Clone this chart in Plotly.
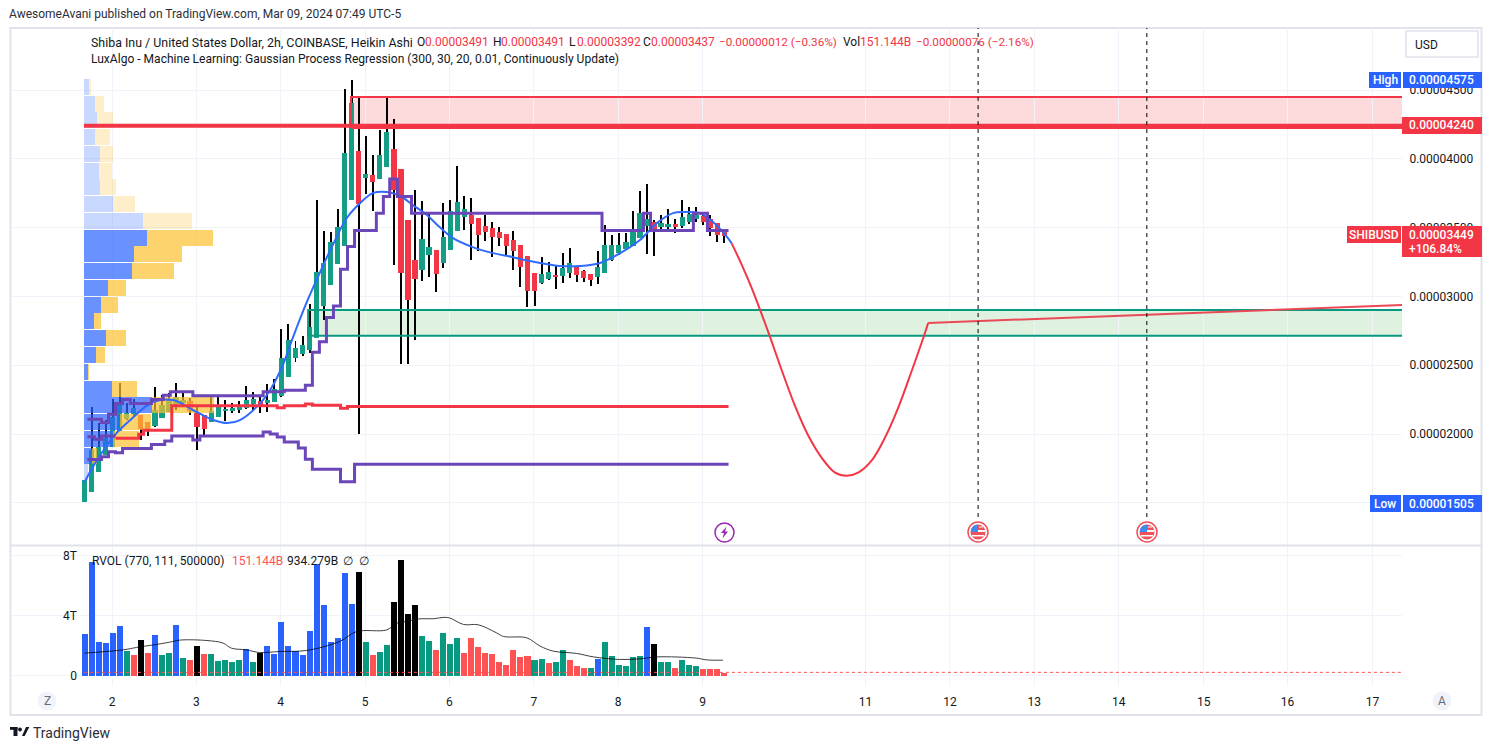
import plotly.graph_objects as go

# ---- prices are in units of 0.00000001 USD ----
bar_index = list(range(92))
opens = [1505,1579,1724,1848,1906,2022,2109,2145,2138,2087,2058,2116,2160,2218,2225,2240,2153,2138,2087,2124,
         2167,2167,2175,2189,2218,2240,2225,2233,2276,2414,2552,2581,2611,2698,2930,3083,3236,3366,3701,4057,
         3860,3882,3853,3940,4071,3926,3555,3265,3192,3301,3337,3243,3337,3475,3577,3592,3570,3512,3497,3468,
         3454,3410,3374,3294,3170,3097,3127,3156,3148,3170,3214,3185,3163,3141,3170,3265,3315,3345,3366,3424,
         3512,3541,3504,3512,3526,3512,3541,3563,3584,3563,3533,3491]
highs = [1666,2196,2080,2102,2254,2371,2225,2254,2138,2087,2342,2284,2298,2371,2305,2262,2196,2138,2269,2269,
         2247,2225,2240,2349,2305,2269,2363,2400,2763,2799,2676,2712,2945,3701,3475,3468,3635,4507,4575,4442,
         4166,4028,4209,4442,4289,3926,3555,3773,3693,3606,3337,3679,3701,3948,3730,3715,3570,3592,3541,3504,
         3454,3475,3374,3294,3170,3286,3250,3228,3315,3352,3214,3192,3163,3330,3519,3446,3461,3461,3621,3766,
         3817,3555,3592,3635,3563,3701,3650,3650,3613,3592,3533,3491]
lows = [1505,1579,1724,1848,1906,2022,2100,2130,1957,1986,2050,2116,2160,2175,2196,2138,1884,1993,2087,2124,
        2095,2153,2153,2182,2175,2153,2160,2233,2270,2414,2523,2570,2589,2698,2829,3083,3236,3366,3701,2000,
        3744,3621,3853,3940,3228,2509,2509,2683,3112,3141,3032,3206,3337,3475,3483,3265,3330,3403,3286,3366,
        3301,3192,3068,2923,2930,3090,3119,3054,3097,3134,3105,3105,3076,3090,3170,3257,3301,3337,3366,3424,
        3308,3294,3483,3490,3461,3497,3526,3541,3519,3439,3395,3392]
closes = [1666,1884,1906,1971,2124,2211,2153,2189,2036,2036,2175,2211,2247,2269,2247,2167,2051,2036,2167,2196,
          2182,2189,2196,2247,2254,2211,2247,2327,2552,2683,2625,2647,2778,3177,3243,3395,3504,4042,4405,3672,
          3890,3831,4028,4195,3773,3170,2974,3127,3417,3359,3163,3432,3621,3686,3635,3526,3446,3468,3432,3424,
          3366,3330,3214,3039,3039,3163,3177,3141,3206,3243,3156,3134,3119,3214,3374,3374,3374,3395,3483,3606,
          3563,3483,3533,3526,3504,3577,3599,3592,3541,3497,3446,3437]

# relative volume (trillions) and its colour class per bar
volumes = [2.78,7.56,2.24,2.18,2.84,3.31,1.64,1.38,2.38,1.51,2.71,1.38,1.51,3.38,1.18,1.04,1.98,1.44,1.44,0.98,
           1.04,0.91,1.04,1.78,0.91,1.51,1.98,1.44,3.58,1.98,1.64,1.38,2.98,7.44,4.71,2.24,2.51,6.84,4.78,6.91,
           2.24,1.38,1.58,2.04,4.91,7.71,4.13,4.67,2.60,2.33,1.67,2.80,2.13,2.53,1.47,2.47,1.93,1.47,1.40,0.93,
           0.73,1.67,1.20,1.27,1.00,1.13,0.80,0.87,1.67,1.00,0.60,0.53,0.53,1.13,2.20,1.27,0.67,0.60,1.20,1.27,
           3.20,2.13,0.87,0.93,0.53,1.00,0.73,0.60,0.40,0.40,0.40,0.20]
vol_class = list("bbbbbbgrkrbggbgrkrgggggbgkbbbbbbbbbbbbbk"
                 "grggkkkkggrgggrrrrrrrrrrggrggrrrgbgggggg"
                 "bkggrgggrrrr")
vol_avg_x = [0,5.5,7.4,9.8,12.1,13.6,17.4,19.7,20.9,23,24.9,27.8,31.6,36.3,38.7,43,44.4,45.8,47.7,49.6,51,51.9,
             53.9,56,58.6,59.6,62.9,64.8,66.7,70,72.4,76.1,79,81.4,87,88.5,90.8]
vol_avg = [1.49,1.71,1.87,2.04,2.22,2.36,2.33,2.16,1.82,1.71,1.53,1.60,1.67,2.27,2.93,3.04,3.49,3.60,3.78,3.78,3.87,3.84,
           3.40,3.38,2.84,2.60,2.51,1.96,1.62,1.47,1.24,1.07,1.11,1.24,1.16,1.04,1.02]
vol_floor = 0.21

# Gaussian-process regression fit and forecast
fit_x = [0,1.5,4.3,6.5,9.7,12.6,15.4,18.3,20.3,22.1,25,26.4,28.2,29.6,31.6,33.5,35.3,37.3,39.2,41,43,44.9,46.7,48.7,
         50.5,52.4,55.2,58.1,60.9,61.9,64.8,67.6,70.5,73.3,76.2,79,81.4,83.7,85.7,87.5,89.4,91.4,92.05]
fit_y = [1651,1789,1993,2102,2233,2247,2175,2102,2080,2102,2225,2320,2502,2698,2959,3177,3374,3570,3679,3751,3759,3730,
         3664,3592,3504,3424,3359,3315,3286,3272,3243,3221,3221,3243,3315,3410,3533,3606,3613,3606,3541,3432,3386]
fc_x = [92.05,93.5,94.9,96.1,97.5,98.9,101.1,102.9,104.9,106.7,108.4,110.1,112,113.8,115.7,117.6,119.3,120]
fc_y = [3386,3228,3061,2901,2707,2502,2199,1993,1824,1722,1697,1722,1811,1969,2187,2451,2698,2807]
trend_x = [120,187.4]
trend_y = [2807,2938]

# Step bands
upper_x = [0.4,2.4,3.4,4.4,5.4,6.5,9.5,11.2,12.2,15.4,25.4,28.4,31.4,32.4,33.4,34.4,35.4,36.4,37.4,38.4,41.5,42.5,43.4,
           44.5,46.5,73.6,79.5,80.5,86.6,88.6,91.6]
upper_y = [2107,2085,2145,2223,2252,2223,2252,2283,2307,2278,2307,2318,2354,2594,2671,2848,2930,3197,3364,3480,3604,3727,
           3853,3727,3604,3480,3604,3480,3604,3480,3480]
lower_x = [0.4,2.4,3.4,4.4,5.4,9.5,11.4,12.4,15.4,16.4,25.4,26.4,27.4,28.4,30.4,31.4,32.4,36.4,38.4,91.6]
lower_y = [1816,1835,1871,1864,1896,1925,1949,1986,1957,1986,2015,2000,1978,1942,1898,1818,1744,1653,1780,1780]
mid_purple_x = [0.4,1.4,2.4,4.4]
mid_purple_y = [1981,1962,1986,1986]
mid_red_x = [4.4,7.7,8.4,12.4,27.4,28.4,31.4,32.4,36.4,37.4,91.6]
mid_red_y = [1969,1998,2027,2206,2191,2206,2218,2209,2187,2201,2201]

# Support / resistance levels
res_level = 4240
res_top = 4449
res_bottom = 4224
res_start = 37.9
sup_top = 2901
sup_bottom = 2715
sup_start = 31.8
event_x = [127.1,151.1]
event_span = [1397,4951]

# Volume profile by price row
vp_price = [4522,4398,4282,4158,4035,3911,3795,3672,3548,3424,3308,3185,3061,2938,2821,2698,2574,2451,2331,2211,2087,1964,1844,1724]
vp_up = [0.7,1.6,1.85,1.6,2.3,2.13,2.3,4.1,8.4,9,7.1,6.8,3.4,2.4,1.4,3.1,1.7,0.57,4,9.7,5.1,4.2,1.1,0.6]
vp_down = [0.28,1.28,2.28,2.13,1.85,1.85,2.28,3.13,6.97,9.39,6.83,5.97,2.56,2.42,1,2.85,1.28,0.14,3.56,8.82,4.5,3.65,0.8,0]
vp_in_value = [0]*9 + [1]*14 + [0]

# Axes
price_ticks = [1500,2000,2500,3000,3500,4000,4500]
price_labels = ["0.00001500","0.00002000","0.00002500","0.00003000","0.00003500","0.00004000","0.00004500"]
day_ticks = [3.9,15.9,27.9,39.9,51.9,63.9,75.9,87.9,111.1,123.1,135.1,147.1,159.2,171.1,183.2]
day_labels = ["2","3","4","5","6","7","8","9","11","12","13","14","15","16","17"]
vol_ticks = [0,4,8]
vol_labels = ["0","4T","8T"]

FONT = "Roboto"
TEAL = "#149e85"
RED = "#f23645"
VGREEN = "#089981"
VRED = "#ff5252"
BLUE = "#2962ff"
PURPLE = "#6b46b8"
DARK = "#131722"
GRID = "#f0f3fa"
EDGE = "#e0e3eb"
XMAX = 187.4

L, R, T, B = 11, 1402, 28, 686
def px(x): return (x - L) / (R - L)
def py(y): return (B - y) / (B - T)

fig = go.Figure()

# candles
fig.add_trace(go.Bar(x=bar_index, base=lows, y=[h - l for h, l in zip(highs, lows)], width=0.14,
                     marker=dict(color="#000000", line_width=0), name="wick", showlegend=False, hoverinfo="skip"))
fig.add_trace(go.Bar(x=bar_index, base=[min(o, c) for o, c in zip(opens, closes)],
                     y=[abs(c - o) for o, c in zip(opens, closes)], width=0.74,
                     marker=dict(color=[TEAL if c >= o else RED for o, c in zip(opens, closes)], line_width=0),
                     name="SHIBUSD", showlegend=False))
# volume profile
vp_base = -0.1
fig.add_trace(go.Bar(orientation="h", y=vp_price, x=vp_up, base=[vp_base] * len(vp_up), width=116,
                     marker=dict(color=["rgba(41,98,255,0.7)" if v else "rgba(41,98,255,0.25)" for v in vp_in_value], line_width=0),
                     showlegend=False, name="VP up"))
fig.add_trace(go.Bar(orientation="h", y=vp_price, x=vp_down, base=[vp_base + u for u in vp_up], width=116,
                     marker=dict(color=["rgba(251,192,45,0.7)" if v else "rgba(251,192,45,0.25)" for v in vp_in_value], line_width=0),
                     showlegend=False, name="VP down"))

# zones (lines)
def line(x, y, color, width, yaxis="y", shape="linear", dash=None, opacity=1.0, name=""):
    fig.add_trace(go.Scatter(x=x, y=y, yaxis=yaxis, mode="lines", showlegend=False, opacity=opacity, name=name,
                             line=dict(color=color, width=width, shape=shape, dash=dash), hoverinfo="skip"))

line([XMAX, sup_start, sup_start, XMAX], [sup_top, sup_top, sup_bottom, sup_bottom], VGREEN, 2)
line([res_start, res_start, XMAX], [res_bottom, res_top, res_top], RED, 2)
line([res_start, XMAX], [res_bottom, res_bottom], RED, 2)
line([vp_base, XMAX], [res_level, res_level], RED, 4)
# GP regression
line(fit_x, fit_y, "#2f6bff", 2, shape="spline")
line(fc_x, fc_y, RED, 2, shape="spline")
line(trend_x, trend_y, "#ea4a55", 2)
# bands
line(lower_x, lower_y, PURPLE, 3, shape="hv")
line(upper_x, upper_y, PURPLE, 3, shape="hv")
line(mid_purple_x, mid_purple_y, PURPLE, 3, shape="hv")
line(mid_red_x, mid_red_y, RED, 3, shape="hv")
# event lines
for ex in event_x:
    line([ex, ex], event_span, "#000000", 1, dash="4px,4px")

# volume pane
vcolor = {"b": BLUE, "g": VGREEN, "r": VRED, "k": "#000000"}
fig.add_trace(go.Bar(x=bar_index, y=volumes, yaxis="y2", width=0.86,
                     marker=dict(color=[vcolor[k] for k in vol_class], line_width=0), showlegend=False, name="RVOL"))
line(vol_avg_x, vol_avg, "#000000", 1, yaxis="y2", shape="spline", opacity=0.75)
line([vp_base, XMAX], [vol_floor, vol_floor], VRED, 1, yaxis="y2", dash="dot")

shapes = []
# zone fills
shapes.append(dict(type="rect", layer="below", xref="x", yref="y", x0=res_start, x1=XMAX, y0=res_bottom, y1=res_top,
                   fillcolor="rgba(242,54,69,0.18)", line_width=0))
shapes.append(dict(type="rect", layer="below", xref="x", yref="y", x0=sup_start, x1=XMAX, y0=sup_bottom, y1=sup_top,
                   fillcolor="rgba(76,175,80,0.18)", line_width=0))

def prect(x0, y0, x1, y1, fill=None, edge=None, w=0, layer="above"):
    shapes.append(dict(type="rect", layer=layer, xref="paper", yref="paper", x0=px(x0), x1=px(x1), y0=py(y0), y1=py(y1),
                       fillcolor=fill or "rgba(0,0,0,0)", line=dict(color=edge or "rgba(0,0,0,0)", width=w)))
def pcircle(cx, cy, r, fill=None, edge=None, w=0):
    shapes.append(dict(type="circle", layer="above", xref="paper", yref="paper", x0=px(cx - r), x1=px(cx + r), y0=py(cy - r), y1=py(cy + r),
                       fillcolor=fill or "rgba(0,0,0,0)", line=dict(color=edge or "rgba(0,0,0,0)", width=w)))
def ppath(points, fill):
    d = "M " + " L ".join(f"{px(x):.5f},{py(y):.5f}" for x, y in points) + " Z"
    shapes.append(dict(type="path", layer="above", xref="paper", yref="paper", path=d, fillcolor=fill, line_width=0))

# frame and separators
prect(10.5, 28, 1481.5, 715, edge=EDGE, w=2, layer="below")
shapes.append(dict(type="line", layer="above", xref="paper", yref="paper", x0=px(10), x1=px(1482), y0=py(545.5), y1=py(545.5), line=dict(color=EDGE, width=2)))
shapes.append(dict(type="line", layer="below", xref="paper", yref="paper", x0=px(10), x1=px(1482), y0=py(28), y1=py(28), line=dict(color=EDGE, width=2)))

# USD button
shapes.append(dict(type="rect", layer="above", xref="paper", yref="paper", x0=px(1406), x1=px(1478), y0=py(31), y1=py(57),
                   fillcolor="#ffffff", line=dict(color=EDGE, width=1.5)))
# price tags
prect(1369, 72, 1401, 88, fill=BLUE)
prect(1403, 72, 1482, 88, fill=BLUE)
prect(1402, 117, 1482, 134, fill=RED)
prect(1347, 226, 1401, 243, fill=RED)
prect(1402, 226, 1482, 257, fill=RED)
prect(1370, 495, 1401, 512, fill=BLUE)
prect(1403, 495, 1482, 512, fill=BLUE)
# Z / A buttons
pcircle(47, 701, 9.5, fill=GRID)
pcircle(1442, 701, 9.5, fill=GRID)
# lightning event
pcircle(724.5, 532.5, 9.5, fill="#ffffff", edge="#9c27b0", w=1.5)
ppath([(726.5, 526.5), (721, 533), (724, 533), (722.5, 538.5), (728, 531.5), (725, 531.5)], "#9c27b0")
# US flag events
for fx in [978, 1147]:
    pcircle(fx, 532, 10, fill="#ffffff", edge="#f0505a", w=1.5)
    pcircle(fx, 532, 7.5, fill="#f0505a")
    prect(fx - 7, 530, fx + 7, 532, fill="#ffffff")
    prect(fx - 6, 535, fx + 6, 536.5, fill="#ffffff")
    prect(fx + 1, 526.5, fx + 5, 527.5, fill="#ffffff")
    ppath([(fx - 7, 532), (fx - 7, 529), (fx - 4, 525.5), (fx, 524.5), (fx, 532)], "#3f8ceb")
# TradingView logo
prect(10, 727, 17.5, 729.8, fill="#131722")
prect(13.5, 727, 17.5, 736, fill="#131722")
pcircle(20, 729.5, 1.9, fill="#131722")
ppath([(22, 736), (26, 727), (29.3, 727), (24.7, 736)], "#131722")

ann = []
def text(x, y, s, color=DARK, size=12, anchor="left", weight=None):
    ann.append(dict(xref="paper", yref="paper", x=px(x), y=py(y), text=s, showarrow=False, xanchor=anchor, yanchor="middle",
                    font=dict(family=FONT, size=size, color=color, weight=weight), borderpad=0, borderwidth=0))

PRED = "#f23645"
text(9, 14, "AwesomeAvani published on TradingView.com, Mar 09, 2024 07:49 UTC-5", color="#2a2e39")
text(91, 42, "Shiba Inu / United States Dollar, 2h, COINBASE, Heikin Ashi", size=12.4)
for lx, lt, vx, vt in [(417, "O", 424.5, "0.00003491"), (493, "H", 501, "0.00003491"), (569, "L", 576.5, "0.00003392"), (643, "C", 650.5, "0.00003437")]:
    text(lx, 42, lt)
    text(vx, 42, vt, color=PRED)
text(719, 42, "−0.00000012 (−0.36%)", color=PRED, size=11.7)
text(843, 42, "Vol")
text(860, 42, "151.144B", color=PRED)
text(916, 42, "−0.00000076 (−2.16%)", color=PRED, size=11.7)
text(91, 59, "LuxAlgo - Machine Learning: Gaussian Process Regression (300, 30, 20, 0.01, Continuously Update)", size=12.05)
text(92, 561, "RVOL (770, 111, 500000)")
text(232, 561, "151.144B", color=VRED)
text(287, 561, "934.279B")
text(343, 561, "∅")
text(359, 561, "∅")
text(1415, 44.5, "USD")
text(1385, 80, "High", color="#ffffff", anchor="center", weight=500)
text(1441.5, 80, "0.00004575", color="#ffffff", anchor="center", weight=500)
text(1441.5, 125.5, "0.00004240", color="#ffffff", anchor="center", weight=500)
text(1374, 234.5, "SHIBUSD", color="#ffffff", anchor="center", weight=500)
text(1441.5, 234.5, "0.00003449", color="#ffffff", anchor="center", weight=500)
text(1435, 249, "+106.84%", color="#ffffff", anchor="center", weight=500)
text(1385, 503.5, "Low", color="#ffffff", anchor="center", weight=500)
text(1441.5, 503.5, "0.00001505", color="#ffffff", anchor="center", weight=500)
text(47, 701, "Z", color="#6a6d78", anchor="center")
text(1442, 701, "A", color="#6a6d78", anchor="center")
text(33, 733, "TradingView", color="#2a2e39", size=14)

fig.update_layout(
    width=1492, height=750, margin=dict(l=L, r=1492 - R, t=T, b=750 - B, pad=0),
    paper_bgcolor="#ffffff", plot_bgcolor="#ffffff", barmode="overlay", bargap=0, showlegend=False,
    font=dict(family=FONT, size=12, color=DARK),
    xaxis=dict(domain=[0, 1], range=[-10.47, XMAX], anchor="y2", tickvals=day_ticks, ticktext=day_labels, ticks="outside",
               ticklen=5, tickcolor="rgba(0,0,0,0)", showgrid=True, gridcolor=GRID, gridwidth=1, zeroline=False, showline=False,
               tickfont=dict(family=FONT, size=12, color=DARK)),
    yaxis=dict(domain=[py(545), 1], range=[1194, 4951], side="right", anchor="x", tickvals=price_ticks, ticktext=price_labels,
               ticks="outside", ticklen=4, tickcolor="rgba(0,0,0,0)", showgrid=True, gridcolor=GRID, gridwidth=1, zeroline=False,
               showline=False, tickfont=dict(family=FONT, size=12, color=DARK)),
    yaxis2=dict(domain=[0, py(546)], range=[-0.7, 8.63], side="left", anchor="free", position=px(77), tickvals=vol_ticks, ticktext=vol_labels,
                ticks="", showgrid=True, gridcolor=GRID, gridwidth=1, zeroline=False, showline=False,
                tickfont=dict(family=FONT, size=12, color=DARK)),
    shapes=shapes, annotations=ann,
)

fig.write_html("out.html", post_script="document.body.style.margin='0';", config={"displayModeBar": False})
